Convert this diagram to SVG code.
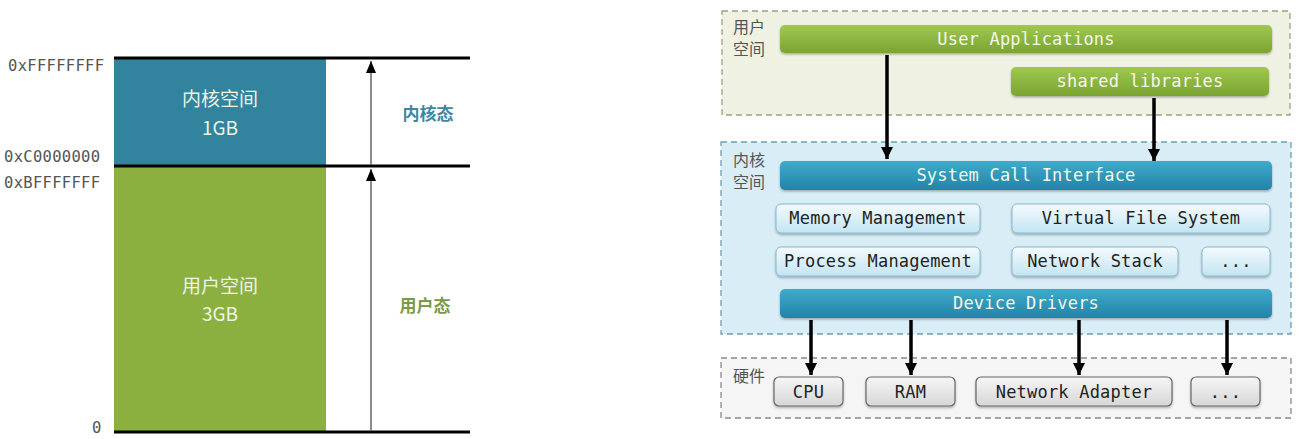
<svg xmlns="http://www.w3.org/2000/svg" width="1299" height="439" viewBox="0 0 1299 439">
<defs>
<linearGradient id="gGreen" x1="0" y1="0" x2="0" y2="1"><stop offset="0" stop-color="#a0c850"/><stop offset="1" stop-color="#7aa431"/></linearGradient>
<linearGradient id="gBlue" x1="0" y1="0" x2="0" y2="1"><stop offset="0" stop-color="#3fabcc"/><stop offset="1" stop-color="#2284a6"/></linearGradient>
<linearGradient id="gLight" x1="0" y1="0" x2="0" y2="1"><stop offset="0" stop-color="#f4fbfe"/><stop offset="1" stop-color="#c3e4f2"/></linearGradient>
<linearGradient id="gGray" x1="0" y1="0" x2="0" y2="1"><stop offset="0" stop-color="#f6f6f6"/><stop offset="1" stop-color="#d6d6d6"/></linearGradient>
<marker id="ahThin" viewBox="0 0 10 12" refX="5" refY="0" markerWidth="10" markerHeight="12" orient="0" markerUnits="userSpaceOnUse"><path d="M0,12 L5,0 L10,12 Z" fill="#000"/></marker>
<marker id="ahBold" viewBox="0 0 12 12" refX="6" refY="12" markerWidth="12" markerHeight="12" orient="0" markerUnits="userSpaceOnUse"><path d="M0,0 L12,0 L6,12 Z" fill="#000"/></marker>
<filter id="sh" x="-5%" y="-20%" width="110%" height="150%"><feDropShadow dx="0" dy="1.5" stdDeviation="1.2" flood-color="#000" flood-opacity="0.3"/></filter>
</defs>
<style>
.mono{font-family:"DejaVu Sans Mono","Liberation Mono",monospace;}
.addr{font-size:15.5px;fill:#555;letter-spacing:0.3px;}
.cjk{font-family:"Noto Sans CJK SC","Noto Sans",sans-serif;}
.big{font-size:19px;fill:#eef3e6;text-anchor:middle;}
.bar{font-size:17px;fill:#f4f8ec;text-anchor:middle;letter-spacing:0.2px;}
.box{font-size:17px;fill:#222;text-anchor:middle;letter-spacing:0.2px;}
.zone{font-size:16px;fill:#555;}
.hline{stroke:#000;stroke-width:3;}
.conn{stroke:#000;stroke-width:3.5;fill:none;}
.vthin{stroke:#666;stroke-width:1.5;}
</style>
<rect width="1299" height="439" fill="#fff"/>

<g id="memory-map">
<rect x="114" y="58" width="212" height="108" fill="#32839d"/>
<rect x="114" y="166" width="212" height="266" fill="#8cb040"/>
<line class="hline" x1="114" y1="58" x2="470" y2="58"/>
<line class="hline" x1="114" y1="166" x2="470" y2="166"/>
<line class="hline" x1="114" y1="432" x2="470" y2="432"/>
<line class="vthin" x1="371" y1="165" x2="371" y2="61" marker-end="url(#ahThin)"/>
<line class="vthin" x1="371" y1="431" x2="371" y2="169" marker-end="url(#ahThin)"/>
<text class="mono addr" x="8" y="71">0xFFFFFFFF</text>
<text class="mono addr" x="4" y="162">0xC0000000</text>
<text class="mono addr" x="4" y="188">0xBFFFFFFF</text>
<text class="mono addr" x="92" y="433">0</text>
<text class="cjk big" x="220" y="106">内核空间</text>
<text class="cjk big" x="220" y="135">1GB</text>
<text class="cjk big" x="220" y="293">用户空间</text>
<text class="cjk big" x="220" y="321">3GB</text>
<text class="cjk" x="428" y="120" font-size="17" font-weight="bold" fill="#3c87a3" text-anchor="middle">内核态</text>
<text class="cjk" x="425" y="312" font-size="17" font-weight="bold" fill="#7d9a45" text-anchor="middle">用户态</text>
</g>

<g id="user-space">
<rect x="722" y="11" width="568" height="104" fill="#eff2e3" stroke="#9aa27a" stroke-width="1.3" stroke-dasharray="6,4"/>
<text class="cjk zone" x="733" y="33">用户</text>
<text class="cjk zone" x="733" y="55">空间</text>
</g>
<g id="user-applications">
<rect x="780" y="25" width="492" height="28" rx="5" fill="url(#gGreen)" filter="url(#sh)"/>
<text class="mono bar" x="1026" y="45">User Applications</text>
</g>
<g id="shared-libraries">
<rect x="1011" y="67" width="258" height="29" rx="5" fill="url(#gGreen)" filter="url(#sh)"/>
<text class="mono bar" x="1140" y="87">shared libraries</text>
</g>

<g id="kernel-space">
<rect x="721" y="142" width="570" height="192" fill="#d9edf6" stroke="#6e9fb6" stroke-width="1.3" stroke-dasharray="6,4"/>
<text class="cjk zone" x="733" y="166">内核</text>
<text class="cjk zone" x="733" y="188">空间</text>
</g>
<g id="system-call-interface">
<rect x="780" y="161" width="492" height="29" rx="5" fill="url(#gBlue)" filter="url(#sh)"/>
<text class="mono bar" x="1026" y="181">System Call Interface</text>
</g>
<g id="memory-management">
<rect x="776" y="204" width="204" height="29" rx="5" fill="url(#gLight)" stroke="#86b8cd" stroke-width="1" filter="url(#sh)"/>
<text class="mono box" x="878" y="224">Memory Management</text>
</g>
<g id="virtual-file-system">
<rect x="1012" y="204" width="258" height="29" rx="5" fill="url(#gLight)" stroke="#86b8cd" stroke-width="1" filter="url(#sh)"/>
<text class="mono box" x="1141" y="224">Virtual File System</text>
</g>
<g id="process-management">
<rect x="776" y="247" width="204" height="29" rx="5" fill="url(#gLight)" stroke="#86b8cd" stroke-width="1" filter="url(#sh)"/>
<text class="mono box" x="878" y="267">Process Management</text>
</g>
<g id="network-stack">
<rect x="1012" y="247" width="166" height="29" rx="5" fill="url(#gLight)" stroke="#86b8cd" stroke-width="1" filter="url(#sh)"/>
<text class="mono box" x="1095" y="267">Network Stack</text>
</g>
<g id="kernel-more">
<rect x="1202" y="247" width="68" height="29" rx="5" fill="url(#gLight)" stroke="#86b8cd" stroke-width="1" filter="url(#sh)"/>
<text class="mono box" x="1236" y="267">...</text>
</g>
<g id="device-drivers">
<rect x="780" y="289" width="492" height="29" rx="5" fill="url(#gBlue)" filter="url(#sh)"/>
<text class="mono bar" x="1026" y="309">Device Drivers</text>
</g>

<g id="hardware">
<rect x="721" y="358" width="570" height="60" fill="#f5f5f5" stroke="#8a8a8a" stroke-width="1.3" stroke-dasharray="6,4"/>
<text class="cjk zone" x="733" y="382">硬件</text>
</g>
<g id="cpu">
<rect x="774" y="377" width="69" height="29" rx="5" fill="url(#gGray)" stroke="#666" stroke-width="1.2" filter="url(#sh)"/>
<text class="mono box" x="808.5" y="398">CPU</text>
</g>
<g id="ram">
<rect x="866" y="377" width="89" height="29" rx="5" fill="url(#gGray)" stroke="#666" stroke-width="1.2" filter="url(#sh)"/>
<text class="mono box" x="910.5" y="398">RAM</text>
</g>
<g id="network-adapter">
<rect x="976" y="377" width="196" height="29" rx="5" fill="url(#gGray)" stroke="#666" stroke-width="1.2" filter="url(#sh)"/>
<text class="mono box" x="1074" y="398">Network Adapter</text>
</g>
<g id="hardware-more">
<rect x="1191" y="377" width="69" height="29" rx="5" fill="url(#gGray)" stroke="#666" stroke-width="1.2" filter="url(#sh)"/>
<text class="mono box" x="1225.5" y="398">...</text>
</g>

<g id="connectors">
<line class="conn" x1="887" y1="55" x2="887" y2="159" marker-end="url(#ahBold)"/>
<line class="conn" x1="1154" y1="98" x2="1154" y2="161" marker-end="url(#ahBold)"/>
<line class="conn" x1="811" y1="320" x2="811" y2="375" marker-end="url(#ahBold)"/>
<line class="conn" x1="911" y1="320" x2="911" y2="375" marker-end="url(#ahBold)"/>
<line class="conn" x1="1079" y1="320" x2="1079" y2="375" marker-end="url(#ahBold)"/>
<line class="conn" x1="1227" y1="320" x2="1227" y2="375" marker-end="url(#ahBold)"/>
</g>
</svg>
